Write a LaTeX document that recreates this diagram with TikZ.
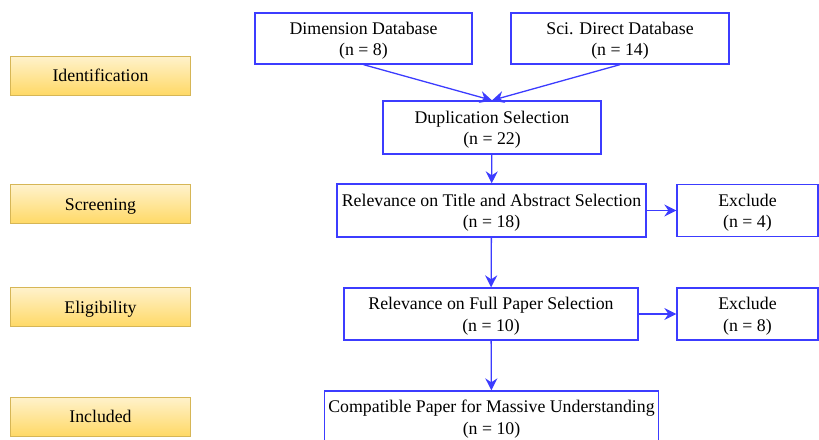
\documentclass[tikz,border=0pt]{standalone}
\usepackage{fontspec}
\setmainfont{Liberation Serif}
\usetikzlibrary{arrows.meta}
\definecolor{flowblue}{RGB}{60,60,255}
\definecolor{stagetop}{HTML}{FFF2CC}
\definecolor{stagebot}{HTML}{FFD966}
\definecolor{stageline}{HTML}{D6B656}
% two centred lines, the first with a taller strut so the pair sits a bit low
\newcommand\boxlines[2]{\begin{tabular}{@{}c@{}}\rule{0pt}{19pt}#1\\#2\end{tabular}}
\tikzset{
  flowbox/.style={draw=flowblue, line width=1.3pt, fill=white, inner sep=0pt,
    font=\fontsize{17.8}{21.5}\selectfont},
  stagebox/.style={draw=stageline, line width=1pt, top color=stagetop, bottom color=stagebot,
    minimum width=180pt, minimum height=39pt, inner sep=0pt,
    text height=12pt, text depth=0pt, font=\fontsize{17.8}{21.5}\selectfont},
  flowarrow/.style={draw=flowblue, line width=1.3pt, -{Stealth[length=12pt,width=12pt,inset=4pt]}}
}
\begin{document}
\begin{tikzpicture}[x=1pt,y=-1pt]
  \useasboundingbox (0,0) rectangle (819,439);
  \clip (0,0) rectangle (819,439);

  % stage labels
  \node[stagebox] (ident) at (100.5,75.5) {Identification};
  \node[stagebox] (screen) at (100.5,204) {Screening};
  \node[stagebox] (elig) at (100.5,307) {Eligibility};
  \node[stagebox] (incl) at (100.5,416.5) {Included};

  % flow boxes
  \node[flowbox, minimum width=217pt, minimum height=51pt] (dim) at (363.5,38.5)
    {\boxlines{Dimension Database}{(n = 8)}};
  \node[flowbox, minimum width=218pt, minimum height=51pt] (sci) at (620,38.5)
    {\boxlines{Sci. Direct Database}{(n = 14)}};
  \node[flowbox, minimum width=218pt, minimum height=53pt] (dup) at (492,127.5)
    {\boxlines{Duplication Selection}{(n = 22)}};
  \node[flowbox, minimum width=309pt, minimum height=53pt] (title) at (491.5,210.5)
    {\boxlines{Relevance on Title and Abstract Selection}{(n = 18)}};
  \node[flowbox, minimum width=141pt, minimum height=52pt] (exc1) at (747.5,210.5)
    {\boxlines{Exclude}{(n = 4)}};
  \node[flowbox, minimum width=294pt, minimum height=52pt] (full) at (491,314)
    {\boxlines{Relevance on Full Paper Selection}{(n = 10)}};
  \node[flowbox, minimum width=141pt, minimum height=52pt] (exc2) at (747.5,314)
    {\boxlines{Exclude}{(n = 8)}};
  \node[flowbox, minimum width=334pt, minimum height=52pt] (comp) at (491.5,417)
    {\boxlines{Compatible Paper for Massive Understanding}{(n = 10)}};

  % connectors
  \draw[flowarrow] (dim.south) -- (dup.north);
  \draw[flowarrow] (sci.south) -- (dup.north);
  \draw[flowarrow] (dup) -- (title);
  \draw[flowarrow] (title) -- (full);
  \draw[flowarrow] (full) -- (comp);
  \draw[flowarrow] (title) -- (exc1);
  \draw[flowarrow] (full) -- (exc2);
\end{tikzpicture}
\end{document}
